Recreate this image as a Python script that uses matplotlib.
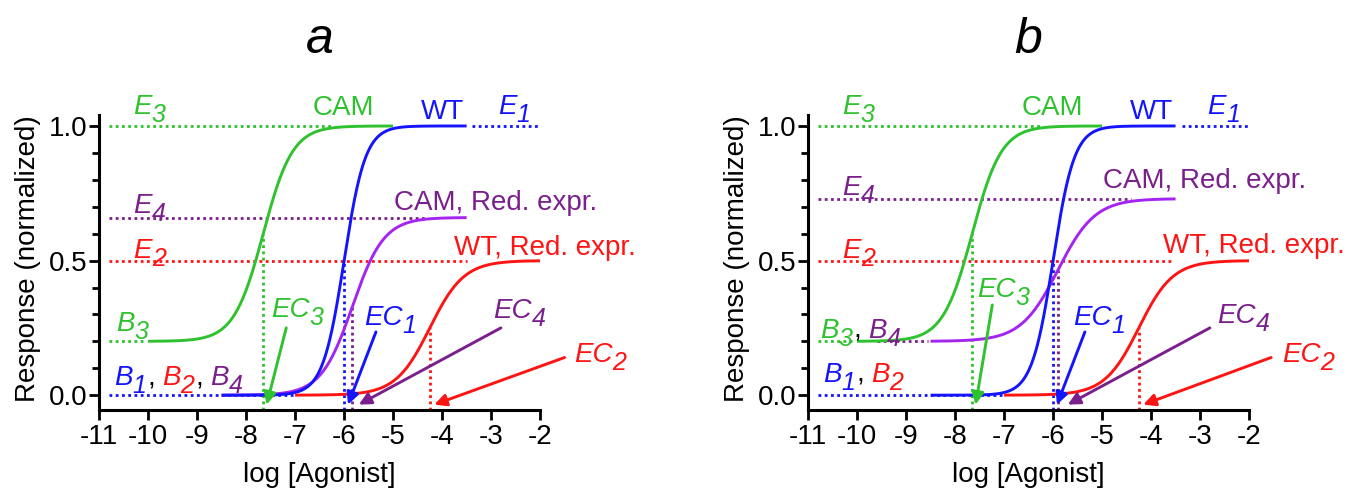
import numpy as np
import matplotlib
matplotlib.use('Agg')
from matplotlib import pyplot as plt
from matplotlib.transforms import offset_copy

plt.rcParams['font.family'] = 'Liberation Sans'
plt.rcParams['axes.unicode_minus'] = False

GREEN = '#2ec22e'
BLUE = '#1414ff'
RED = '#ff1414'
VIOLET = '#a424f0'
PURPLE = '#7a1f8c'

# index 0..3 -> subscripts 1..4: WT, WT red. expr., CAM, CAM red. expr.
names = ['WT', 'WT, Red. expr.', 'CAM', 'CAM, Red. expr.']
curve_colors = [BLUE, RED, GREEN, VIOLET]
text_colors = [BLUE, RED, GREEN, PURPLE]

x_start = [-8.5, -7.0, -10.0, -8.5]
x_end = [-3.5, -2.0, -5.0, -3.5]

log_ec = {'a': [-6.0, -4.25, -7.65, -5.83],
          'b': [-6.0, -4.25, -7.65, -5.90]}
basal = {'a': [0.0, 0.0, 0.2, 0.0],
         'b': [0.0, 0.0, 0.2, 0.2]}
emax = {'a': [1.0, 0.5, 1.0, 0.66],
        'b': [1.0, 0.5, 1.0, 0.73]}
hill_n = {'a': [2.0, 1.25, 1.45, 1.35],
          'b': [2.0, 1.25, 1.45, 1.15]}

# extent of the dotted E (top) and B (basal) guide lines
top_guides = {'a': [(-3.4, -1.9), (-10.8, -3.5), (-10.8, -6.2), (-10.8, -4.3)],
              'b': [(-3.37, -1.9), (-10.8, -3.6), (-10.8, -6.2), (-10.8, -4.4)]}
basal_guides = {'a': [(-10.8, -7.05), None, (-10.8, -10.1), None],
                'b': [(-10.8, -7.05), None, (-10.8, -10.05), (-9.6, -8.55)]}

xticks = list(range(-11, -1))
yticks = [0.0, 0.5, 1.0]
ytick_labels = ['0.0', '0.5', '1.0']

FS = 20
SUB_FS = 18
SUB_DROP = -8  # px


def hill(x, b, top, ec, n):
    return b + (top - b) / (1 + 10 ** (n * (ec - x)))


def text_run(ax, x, y, pieces):
    # pieces: (text, color, size, dy_px, gap_px, italic), laid out left to right
    fig = ax.figure
    r = fig.canvas.get_renderer()
    dx = 0.0
    for s, c, size, dy, gap, it in pieces:
        tr = offset_copy(ax.transData, fig=fig, x=dx, y=dy, units='dots')
        t = ax.text(x, y, s, color=c, fontsize=size, transform=tr,
                    ha='left', va='baseline', style='italic' if it else 'normal')
        dx += t.get_window_extent(r).width + gap


def sym(letter, i, c, gap=0):
    # italic symbol with a large, italic subscript
    return [(letter, c, FS, 0, 0, True), (str(i), c, SUB_FS, SUB_DROP, gap, True)]


COMMA = (',', 'black', FS, 0, 7, False)

layout = {
    'a': dict(
        e_pos=[(-2.86, 1.045), (-10.3, 0.51), (-10.3, 1.045), (-10.3, 0.676)],
        name_pos=[(-4.0, 1.025, 'center'), (-3.76, 0.52, 'left'),
                  (-6.02, 1.04, 'center'), (-4.98, 0.688, 'left')],
        ec_pos=[(-5.59, 0.26), (-1.31, 0.123), (-7.49, 0.29), (-2.96, 0.286)],
        tails=[(-5.35, 0.235), (-1.5, 0.14), (-7.18, 0.25), (-2.8, 0.25)],
        tips=[-5.92, -4.16, -7.58, -5.7],
        runs=[((-10.65, 0.237), sym('B', 3, GREEN)),
              ((-10.7, 0.037), sym('B', 1, BLUE, 1) + [COMMA] +
               sym('B', 2, RED, 1) + [COMMA] + sym('B', 4, PURPLE))],
    ),
    'b': dict(
        e_pos=[(-2.85, 1.045), (-10.3, 0.51), (-10.3, 1.045), (-10.3, 0.745)],
        name_pos=[(-4.0, 1.025, 'center'), (-3.76, 0.528, 'left'),
                  (-6.02, 1.04, 'center'), (-4.98, 0.77, 'left')],
        ec_pos=[(-5.59, 0.26), (-1.33, 0.123), (-7.55, 0.365), (-2.65, 0.268)],
        tails=[(-5.35, 0.235), (-1.55, 0.14), (-7.24, 0.335), (-2.8, 0.25)],
        tips=[-5.92, -4.16, -7.58, -5.7],
        runs=[((-10.76, 0.213), sym('B', 3, GREEN, 1) + [COMMA] +
               sym('B', 4, PURPLE)),
              ((-10.7, 0.05), sym('B', 1, BLUE, 1) + [COMMA] +
               sym('B', 2, RED))],
    ),
}

fig = plt.figure(figsize=(13.53, 5.0), dpi=100)
ax_a = fig.add_axes([0.0732, 0.18, 0.326, 0.5896])
ax_b = fig.add_axes([0.5972, 0.18, 0.326, 0.5896])

YMIN = -0.055
dot = dict(lw=2.0, ls=(0, (1, 1.25)), dash_capstyle='butt')

for key, ax in (('a', ax_a), ('b', ax_b)):
    L = layout[key]
    ecs, bs, tops, ns = log_ec[key], basal[key], emax[key], hill_n[key]

    # guide lines at E_max and basal level
    for i in range(4):
        x0, x1 = top_guides[key][i]
        ax.plot([x0, x1], [tops[i], tops[i]], color=text_colors[i], **dot)
        if basal_guides[key][i] is not None:
            x0, x1 = basal_guides[key][i]
            ax.plot([x0, x1], [bs[i], bs[i]], color=text_colors[i], **dot)

    # dotted drop lines at each EC50
    for i in range(4):
        yc = hill(ecs[i], bs[i], tops[i], ecs[i], ns[i])
        ax.plot([ecs[i], ecs[i]], [YMIN, yc], color=text_colors[i],
                clip_on=False, **dot)

    # concentration-response curves
    for i in (2, 3, 0, 1):
        xs = np.linspace(x_start[i], x_end[i], 300)
        ax.plot(xs, hill(xs, bs[i], tops[i], ecs[i], ns[i]),
                color=curve_colors[i], lw=2.1, solid_capstyle='butt')

    # labels
    for i in range(4):
        x, y = L['e_pos'][i]
        text_run(ax, x, y, sym('E', i + 1, text_colors[i]))
        x, y, ha = L['name_pos'][i]
        ax.text(x, y, names[i], color=text_colors[i], fontsize=FS,
                ha=ha, va='baseline')
        x, y = L['ec_pos'][i]
        text_run(ax, x, y, [('EC', text_colors[i], FS, 0, 0, True),
                            (str(i + 1), text_colors[i], SUB_FS, SUB_DROP, 0, True)])
        ax.annotate('', xy=(L['tips'][i], -0.035), xytext=L['tails'][i],
                    annotation_clip=False,
                    arrowprops=dict(arrowstyle='-|>', color=text_colors[i],
                                    lw=2.1, mutation_scale=18,
                                    shrinkA=0, shrinkB=0))
    for (x, y), pieces in L['runs']:
        text_run(ax, x, y, pieces)

    ax.set_xlim(-11, -2)
    ax.set_ylim(YMIN, 1.04)
    ax.set_xticks(xticks)
    ax.set_xticklabels([str(t) for t in xticks])
    ax.set_yticks(yticks)
    ax.set_yticklabels(ytick_labels)
    ax.set_yticks(np.arange(0, 1.01, 0.1), minor=True)
    for s in ('top', 'right'):
        ax.spines[s].set_visible(False)
    for s in ('left', 'bottom'):
        ax.spines[s].set_linewidth(2.2)
    ax.tick_params(axis='both', which='major', length=7, width=2,
                   labelsize=FS)
    ax.tick_params(axis='y', which='minor', length=5, width=2)
    ax.tick_params(axis='x', pad=3)
    ax.tick_params(axis='y', pad=1)

    ax.text(-0.16, 0.515, 'Response (normalized)', transform=ax.transAxes,
            rotation=90, ha='center', va='center', fontsize=FS)
    ax.text(0.5, -0.22, 'log [Agonist]', transform=ax.transAxes,
            ha='center', va='center', fontsize=FS)
    ax.text(0.5, 1.255, key, transform=ax.transAxes, ha='center',
            va='center', fontsize=36, style='italic')

fig.savefig('out.png', dpi=100, facecolor='white')
